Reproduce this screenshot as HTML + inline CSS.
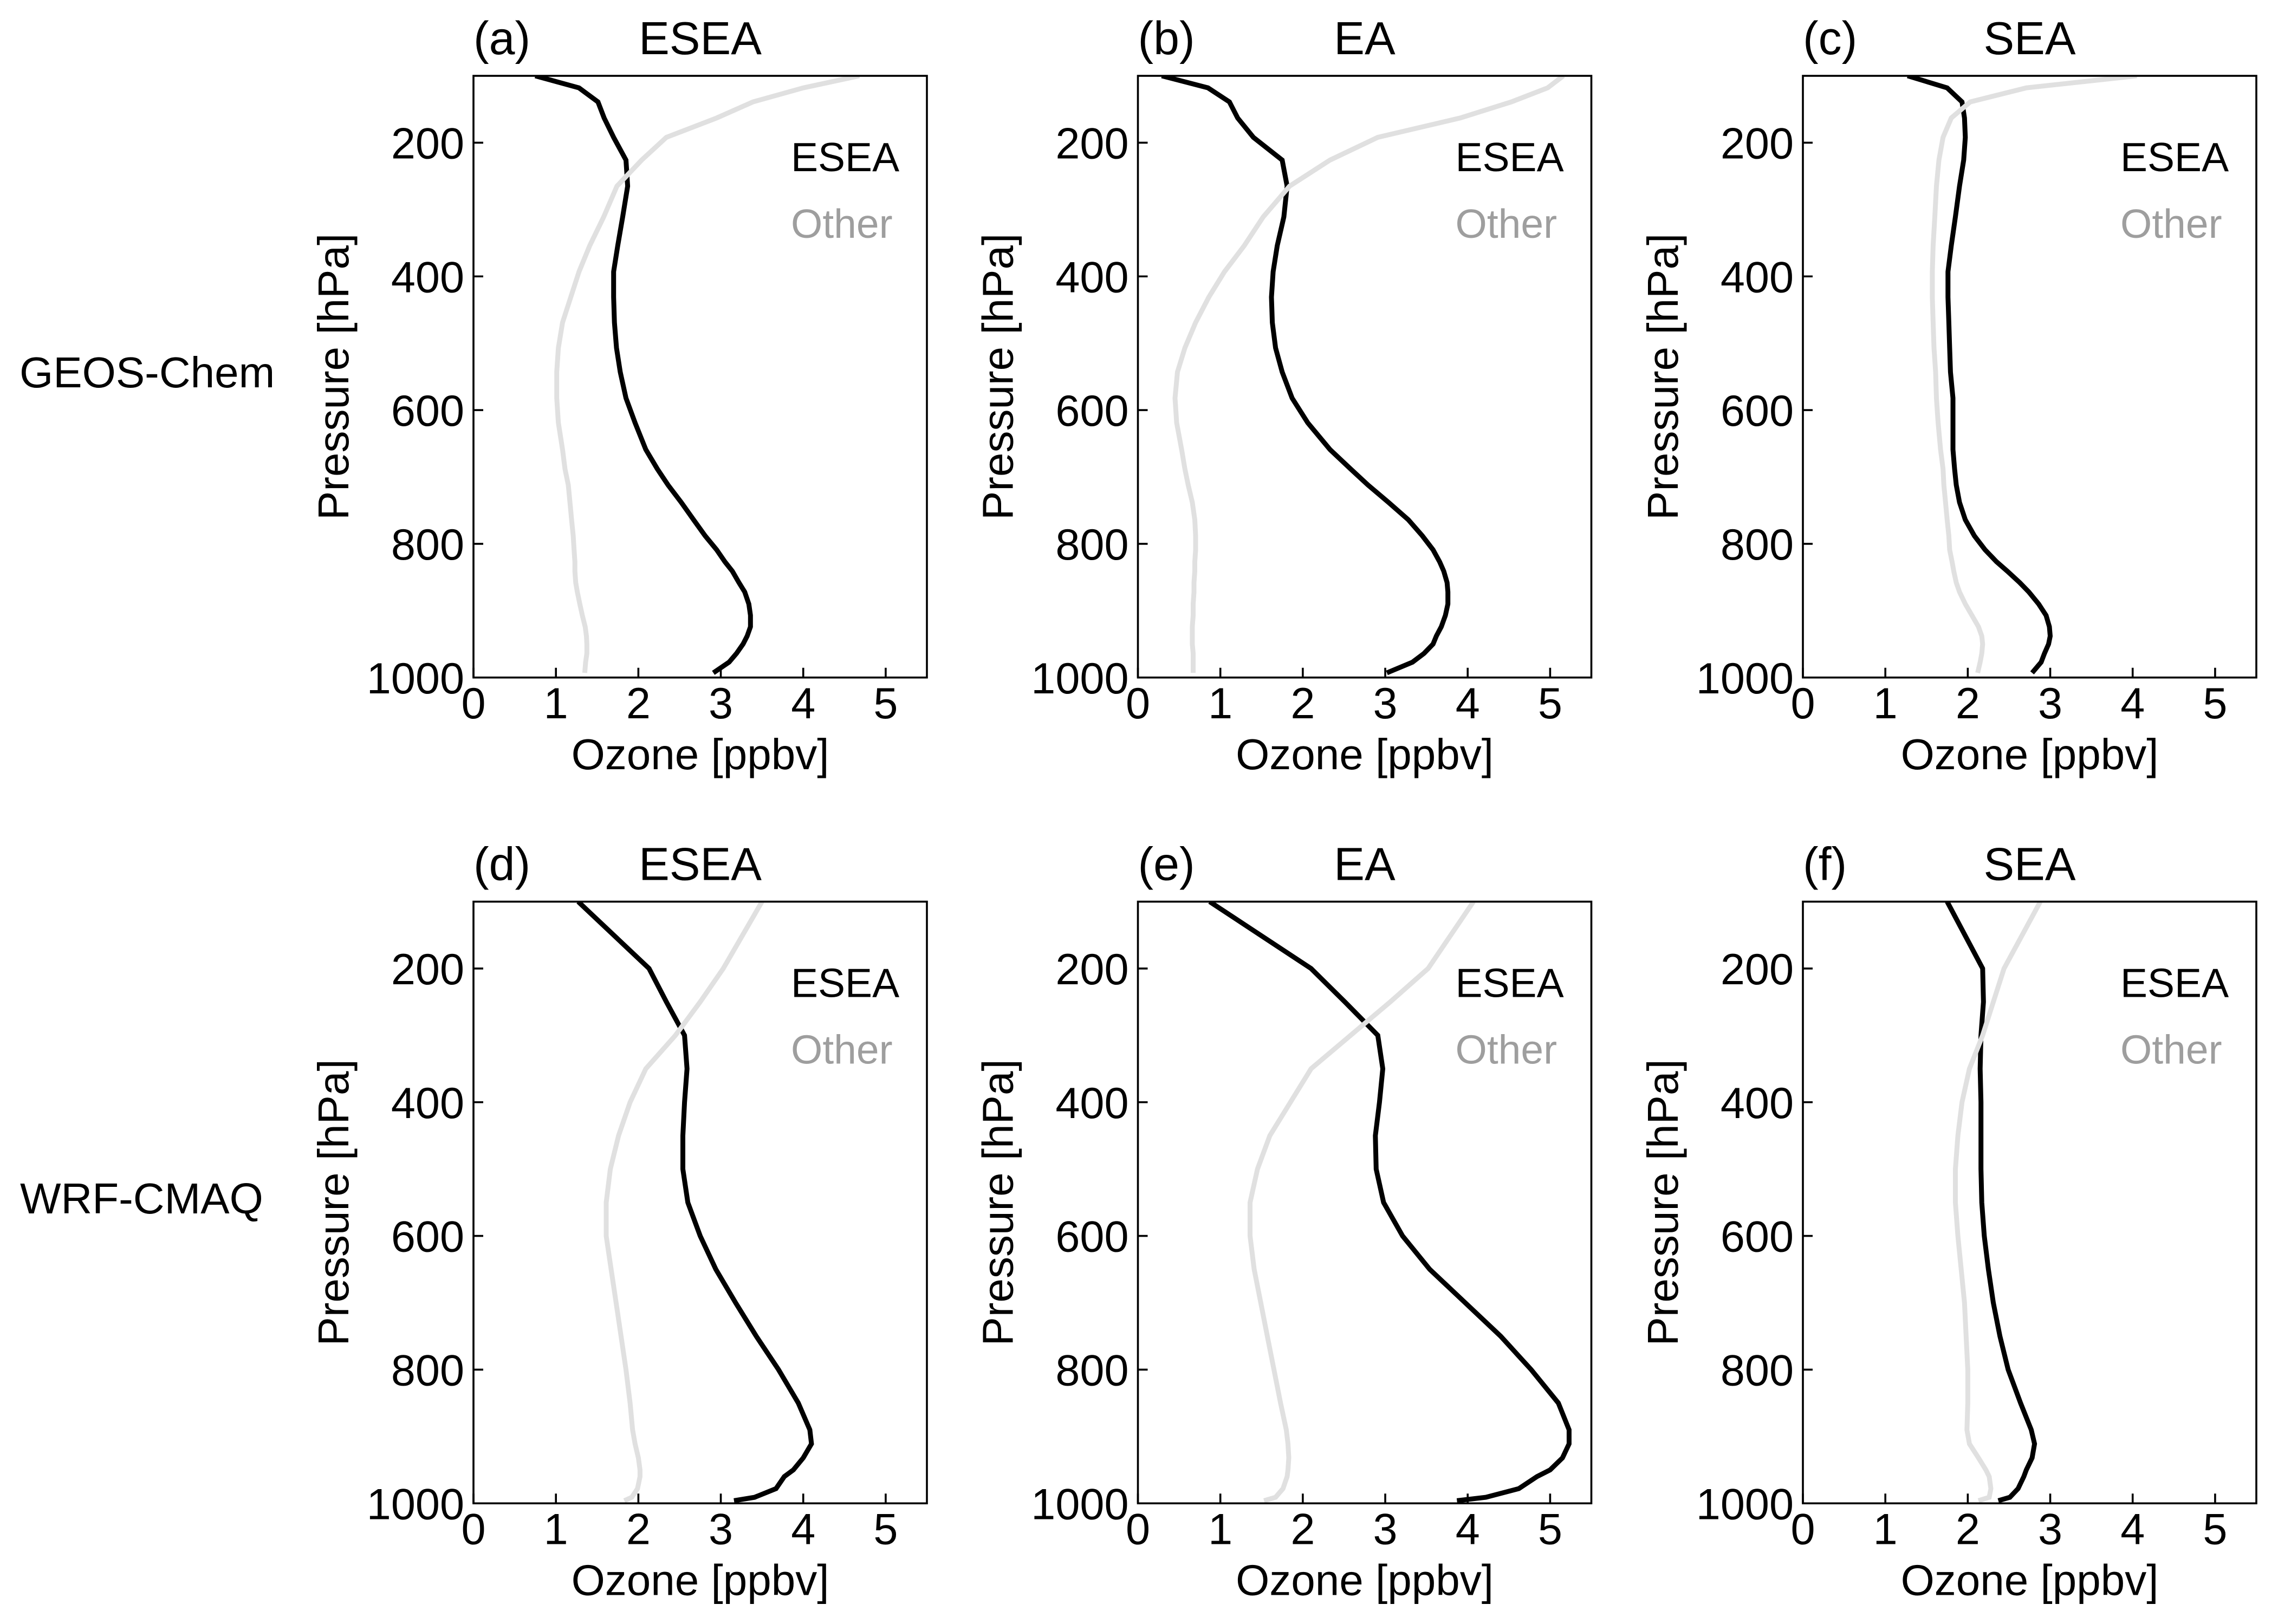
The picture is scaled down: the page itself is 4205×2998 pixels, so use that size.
<!DOCTYPE html>
<html lang="en">
<head>
<meta charset="utf-8">
<title>Ozone vertical profiles</title>
<style>
html,body{margin:0;padding:0;background:#fff;}
svg{display:block;}
text{font-family:"Liberation Sans",Arial,sans-serif;fill:#000;}
</style>
</head>
<body>
<svg id="chart" xmlns="http://www.w3.org/2000/svg" width="4205" height="2998" viewBox="0 0 4205 2998">
<rect width="4205" height="2998" fill="#fff"/>
<text x="36" y="715" font-size="80">GEOS-Chem</text>
<text x="37" y="2240" font-size="80">WRF-CMAQ</text>
</svg>
<script>
const xTicks = [0, 1, 2, 3, 4, 5];
const yTicks = [200, 400, 600, 800, 1000];
const xMax = 5.5;
const pTop = 100;
const pBottom = 1000;

const gcPressure = [100,118,139,163,192,226,265,311,354,393,431,469,507,543,582,619,659,688,712,738,764,788,809,827,841,858,872,890,907,924,938,950,964,977,993];
const wrfPressure = [100,200,250,300,350,400,450,500,550,600,650,700,750,800,850,890,911,932,950,960,978,991,996];

const aEsea = [0.75,1.28,1.51,1.585,1.70,1.85,1.87,1.81,1.75,1.70,1.70,1.71,1.735,1.78,1.85,1.96,2.09,2.23,2.36,2.52,2.67,2.81,2.95,3.05,3.14,3.22,3.29,3.34,3.36,3.36,3.32,3.27,3.19,3.10,2.91];
const aOther = [4.68,4.00,3.39,2.95,2.34,2.04,1.74,1.58,1.41,1.28,1.18,1.08,1.03,1.01,1.01,1.03,1.08,1.11,1.15,1.17,1.19,1.21,1.22,1.23,1.23,1.24,1.26,1.29,1.32,1.355,1.37,1.375,1.375,1.36,1.35];
const bEsea = [0.29,0.85,1.11,1.21,1.40,1.75,1.81,1.77,1.69,1.64,1.62,1.63,1.67,1.75,1.87,2.06,2.33,2.58,2.79,3.04,3.28,3.45,3.58,3.66,3.71,3.75,3.76,3.76,3.73,3.68,3.62,3.58,3.47,3.33,3.02];
const bOther = [5.16,4.97,4.53,3.91,2.91,2.33,1.84,1.52,1.29,1.05,0.86,0.70,0.57,0.48,0.45,0.47,0.53,0.57,0.61,0.66,0.69,0.70,0.70,0.69,0.69,0.68,0.68,0.67,0.67,0.66,0.66,0.66,0.67,0.67,0.67];
const cEsea = [1.27,1.75,1.93,1.96,1.97,1.95,1.90,1.85,1.80,1.76,1.76,1.77,1.78,1.79,1.82,1.82,1.82,1.84,1.86,1.90,1.97,2.08,2.21,2.35,2.48,2.63,2.74,2.86,2.95,2.99,3.00,2.98,2.93,2.89,2.78];
const cOther = [4.05,2.71,2.03,1.80,1.70,1.65,1.62,1.60,1.58,1.57,1.57,1.58,1.59,1.61,1.62,1.64,1.67,1.70,1.71,1.73,1.75,1.77,1.78,1.81,1.83,1.86,1.90,1.97,2.05,2.13,2.17,2.18,2.17,2.15,2.12];
const dEsea = [1.27,2.13,2.34,2.56,2.59,2.56,2.54,2.54,2.60,2.75,2.94,3.18,3.43,3.70,3.94,4.08,4.10,4.00,3.88,3.77,3.67,3.41,3.16];
const dOther = [3.50,3.03,2.75,2.45,2.09,1.90,1.76,1.66,1.61,1.61,1.67,1.73,1.79,1.85,1.90,1.93,1.96,2.00,2.02,2.02,1.99,1.92,1.83];
const eEsea = [0.87,2.10,2.51,2.91,2.97,2.93,2.88,2.89,2.98,3.21,3.54,3.97,4.40,4.77,5.10,5.23,5.23,5.15,5.00,4.84,4.62,4.22,3.87];
const eOther = [4.07,3.52,3.06,2.58,2.10,1.85,1.60,1.45,1.36,1.36,1.41,1.49,1.57,1.65,1.73,1.80,1.82,1.83,1.82,1.81,1.76,1.67,1.53];
const fEsea = [1.75,2.18,2.19,2.16,2.15,2.16,2.16,2.16,2.17,2.20,2.25,2.31,2.39,2.49,2.64,2.77,2.81,2.78,2.71,2.68,2.61,2.51,2.37];
const fOther = [2.88,2.44,2.31,2.18,2.02,1.93,1.88,1.85,1.85,1.88,1.92,1.96,1.98,2.00,2.00,1.99,2.02,2.13,2.22,2.26,2.28,2.26,2.13];

const panels = [
  {id:'a', tag:'(a)', title:'ESEA', col:0, row:0, p:gcPressure,  esea:aEsea, other:aOther},
  {id:'b', tag:'(b)', title:'EA',   col:1, row:0, p:gcPressure,  esea:bEsea, other:bOther},
  {id:'c', tag:'(c)', title:'SEA',  col:2, row:0, p:gcPressure,  esea:cEsea, other:cOther},
  {id:'d', tag:'(d)', title:'ESEA', col:0, row:1, p:wrfPressure, esea:dEsea, other:dOther},
  {id:'e', tag:'(e)', title:'EA',   col:1, row:1, p:wrfPressure, esea:eEsea, other:eOther},
  {id:'f', tag:'(f)', title:'SEA',  col:2, row:1, p:wrfPressure, esea:fEsea, other:fOther}
];

const NS = 'http://www.w3.org/2000/svg';
const svg = document.getElementById('chart');
const colLeft = [874, 2100.5, 3328];
const rowTop = [140, 1664.5];
const axW = 837;
const axH = 1110.75;

function node(tag, attrs, parent) {
  const el = document.createElementNS(NS, tag);
  for (const k in attrs) el.setAttribute(k, attrs[k]);
  parent.appendChild(el);
  return el;
}

function drawPanel(pn) {
  const L = colLeft[pn.col], T = rowTop[pn.row], R = L + axW, B = T + axH;
  const xScale = function (v) { return L + (v / xMax) * axW; };
  const yScale = function (p) { return T + ((p - pTop) / (pBottom - pTop)) * axH; };

  const g = node('g', {}, svg);
  
  

  const clip = node('clipPath', {id: 'clip-' + pn.id}, g);
  node('rect', {x: L, y: T, width: axW, height: axH}, clip);

  const tagEl = node('text', {x: L, y: T - 40, 'font-size': 86}, g);
  tagEl.textContent = pn.tag;
  
  

  const titleEl = node('text', {x: L + axW / 2, y: T - 40, 'font-size': 85, 'text-anchor': 'middle'}, g);
  titleEl.textContent = pn.title;
  
  

  const lineEsea = node('polyline', {
    points: pn.esea.map(function (v, i) { return xScale(v).toFixed(1) + ',' + yScale(pn.p[i]).toFixed(1); }).join(' '),
    fill: 'none', stroke: '#000', 'stroke-width': 9, 'stroke-linejoin': 'miter', 'clip-path': 'url(#clip-' + pn.id + ')'
  }, g);
  
  

  const lineOther = node('polyline', {
    points: pn.other.map(function (v, i) { return xScale(v).toFixed(1) + ',' + yScale(pn.p[i]).toFixed(1); }).join(' '),
    fill: 'none', stroke: '#e0e0e0', 'stroke-width': 9, 'stroke-linejoin': 'miter', 'clip-path': 'url(#clip-' + pn.id + ')'
  }, g);
  
  

  const frame = node('rect', {x: L, y: T, width: axW, height: axH, fill: 'none', stroke: '#000', 'stroke-width': 3.6}, g);
  
  

  xTicks.forEach(function (t) {
    const x = xScale(t);
    const tick = node('line', {x1: x, x2: x, y1: B, y2: B - 18, stroke: '#000', 'stroke-width': 3.6}, g);
    
    
    const lab = node('text', {x: x, y: B + 75, 'font-size': 81, 'text-anchor': 'middle'}, g);
    lab.textContent = String(t);
    
    
  });

  yTicks.forEach(function (t) {
    const y = yScale(t);
    const tick = node('line', {x1: L, x2: L + 18, y1: y, y2: y, stroke: '#000', 'stroke-width': 3.6}, g);
    
    
    const lab = node('text', {x: L - 17, y: y + 29, 'font-size': 81, 'text-anchor': 'end'}, g);
    lab.textContent = String(t);
    
    
  });

  const xt = node('text', {x: L + axW / 2, y: B + 169, 'font-size': 80, 'text-anchor': 'middle'}, g);
  xt.textContent = 'Ozone [ppbv]';
  
  

  const yMid = T + axH / 2;
  const yt = node('text', {x: 0, y: 0, 'font-size': 80, 'text-anchor': 'middle', transform: 'translate(' + (L - 231) + ',' + yMid + ') rotate(-90)'}, g);
  yt.textContent = 'Pressure [hPa]';
  
  

  const le = node('text', {x: L + 586, y: T + 176, 'font-size': 75}, g);
  le.textContent = 'ESEA';
  
  

  const lo = node('text', {x: L + 586, y: T + 299, 'font-size': 75, style: 'fill:#9e9e9e'}, g);
  lo.textContent = 'Other';
  
  
}

panels.forEach(drawPanel);
</script>
</body>
</html>
